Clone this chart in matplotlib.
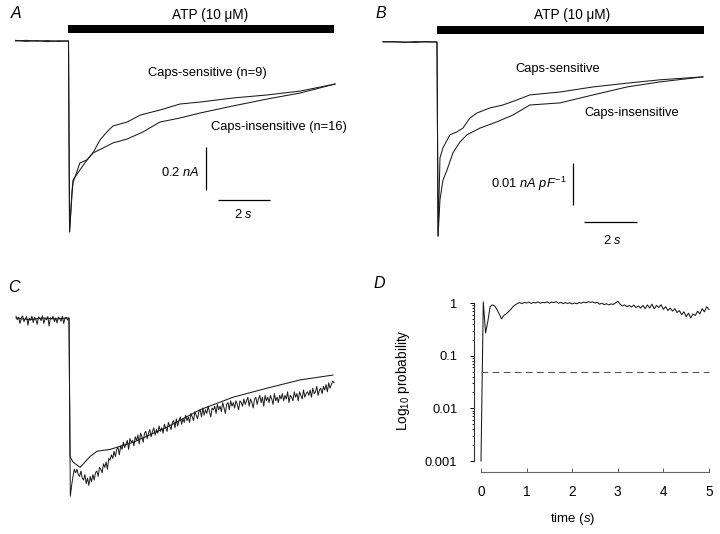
import numpy as np
import matplotlib
matplotlib.use("Agg")
import matplotlib.pyplot as plt
from matplotlib.lines import Line2D
from matplotlib.patches import Rectangle

plt.rcParams['font.family'] = ['Liberation Sans', 'DejaVu Sans']
plt.rcParams['mathtext.fontset'] = 'custom'
plt.rcParams['mathtext.rm'] = 'Liberation Sans'
plt.rcParams['mathtext.it'] = 'Liberation Sans:italic'

# ---------------- data ----------------
# Panel A: mean currents (nA) vs time (s), ATP applied at t = 0
a_t_sens = [-2.0, -1.6, -1.2, -0.8, -0.4, 0.0, 0.04, 0.13, 0.17, 0.43, 0.70, 0.92, 1.19, 1.45,
            1.68, 2.21, 2.72, 3.45, 4.21, 4.96, 6.21, 7.49, 8.74, 10.06]
a_i_sens = [0.003, -0.002, 0.002, -0.003, 0.001, 0.0, -0.888, -0.716, -0.660, -0.567, -0.553, -0.521,
            -0.460, -0.423, -0.395, -0.377, -0.344, -0.321, -0.293, -0.284, -0.265, -0.251, -0.233, -0.200]
a_t_ins = [-2.0, -1.6, -1.2, -0.8, -0.4, 0.0, 0.04, 0.13, 0.17, 0.43, 0.70, 0.92, 1.30, 1.68,
           2.21, 2.81, 3.45, 4.21, 4.96, 6.21, 7.49, 8.74, 10.06]
a_i_ins = [0.0, 0.003, -0.001, 0.002, -0.002, 0.0, -0.888, -0.702, -0.647, -0.600, -0.553, -0.521,
           -0.498, -0.474, -0.456, -0.423, -0.377, -0.358, -0.335, -0.302, -0.270, -0.242, -0.200]

# Panel B: current densities (nA pF-1)
b_t_sens = [-2.0, -1.6, -1.2, -0.8, -0.4, 0.0, 0.04, 0.11, 0.22, 0.48, 0.74, 0.96, 1.22, 1.48,
            1.96, 2.44, 2.96, 3.44, 4.56, 5.78, 7.04, 8.26, 9.85]
b_i_sens = [0.0, 0.0001, -0.0001, 0.0001, 0.0, 0.0, -0.0462, -0.0276, -0.0252, -0.0221, -0.0214,
            -0.0205, -0.0181, -0.0169, -0.0157, -0.0150, -0.0138, -0.0126, -0.0119, -0.0107,
            -0.0098, -0.0090, -0.0083]
b_t_ins = [-2.0, -1.6, -1.2, -0.8, -0.4, 0.0, 0.04, 0.11, 0.22, 0.37, 0.59, 0.85, 1.11, 1.59,
           2.22, 2.81, 3.44, 4.56, 5.78, 7.04, 8.26, 9.85]
b_i_ins = [0.0001, 0.0, 0.0, -0.0001, 0.0001, 0.0, -0.0462, -0.0376, -0.0329, -0.0305, -0.0264,
           -0.0238, -0.0221, -0.0205, -0.0190, -0.0174, -0.0150, -0.0145, -0.0126, -0.0107,
           -0.0095, -0.0083]

# Panel C: normalised currents, mean trace and single noisy trace
c_t_mean = [-2.0, -1.5, -1.0, -0.5, 0.0, 0.04, 0.15, 0.42, 0.79, 1.06, 1.55, 2.43, 3.70, 4.94,
            6.19, 7.47, 8.72, 9.96]
c_i_mean = [0.0, -0.01, 0.0, -0.005, 0.0, -0.77, -0.80, -0.83, -0.77, -0.74, -0.73, -0.69, -0.606,
            -0.51, -0.44, -0.39, -0.344, -0.317]
c_noisy_t0 = -2.0
c_noisy_dt = 0.05
c_noisy = [
    0.01, -0.01, 0.005, -0.03, 0.0, 0.012, -0.02, -0.005, 0.008, -0.04,
    0.0, -0.012, 0.01, -0.025, 0.004, -0.008, -0.035, 0.006, 0.0, -0.015,
    0.012, -0.03, 0.0, -0.01, 0.008, -0.045, 0.002, -0.006, 0.01, -0.02,
    0.0, -0.028, 0.006, -0.004, -0.018, 0.01, -0.03, 0.0, 0.004, -0.012,
    0.0,
    -0.99, -0.93, -0.88, -0.84, -0.86, -0.84, -0.87, -0.88, -0.85, -0.89,
    -0.90, -0.87, -0.92, -0.89, -0.93, -0.88, -0.91, -0.87, -0.90, -0.86,
    -0.85, -0.88, -0.83, -0.84, -0.86, -0.81, -0.83, -0.80, -0.84, -0.78,
    -0.79, -0.76, -0.78, -0.74, -0.77, -0.73, -0.72, -0.76, -0.71, -0.73,
    -0.69, -0.72, -0.70, -0.68, -0.73, -0.67, -0.69, -0.68, -0.71, -0.66,
    -0.68, -0.65, -0.70, -0.64, -0.66, -0.69, -0.64, -0.63, -0.67, -0.64,
    -0.62, -0.66, -0.63, -0.61, -0.65, -0.62, -0.64, -0.60, -0.63, -0.61,
    -0.64, -0.59, -0.61, -0.63, -0.58, -0.60, -0.62, -0.58, -0.57, -0.61,
    -0.56, -0.60, -0.57, -0.55, -0.59, -0.56, -0.58, -0.54, -0.57, -0.55,
    -0.58, -0.53, -0.55, -0.57, -0.52, -0.54, -0.56, -0.52, -0.51, -0.55,
    -0.50, -0.54, -0.51, -0.53, -0.49, -0.52, -0.55, -0.50, -0.51, -0.49,
    -0.53, -0.48, -0.51, -0.49, -0.52, -0.47, -0.50, -0.53, -0.48, -0.47,
    -0.51, -0.46, -0.49, -0.47, -0.50, -0.46, -0.48, -0.51, -0.46, -0.47,
    -0.49, -0.45, -0.48, -0.46, -0.44, -0.49, -0.45, -0.47, -0.50, -0.45,
    -0.44, -0.48, -0.45, -0.43, -0.47, -0.44, -0.49, -0.43, -0.46, -0.44,
    -0.47, -0.43, -0.45, -0.48, -0.42, -0.46, -0.44, -0.47, -0.43, -0.45,
    -0.42, -0.46, -0.43, -0.45, -0.41, -0.47, -0.43, -0.44, -0.46, -0.41,
    -0.44, -0.42, -0.46, -0.41, -0.43, -0.45, -0.40, -0.44, -0.42, -0.41,
    -0.43, -0.40, -0.44, -0.39, -0.42, -0.41, -0.38, -0.43, -0.40, -0.39,
    -0.42, -0.38, -0.40, -0.37, -0.41, -0.36, -0.39, -0.37, -0.35, -0.36]

# Panel D: probability vs time
d_t0 = 0.0
d_dt = 0.05
d_p = [0.001, 1.05, 0.27, 0.45, 0.85, 0.92, 0.88, 0.75, 0.62, 0.50,
       0.58, 0.62, 0.68, 0.75, 0.85, 0.92, 0.98, 1.02, 0.97, 1.03,
       1.00, 1.04, 0.98, 1.03, 1.00, 1.05, 0.99, 1.03, 1.01, 1.05,
       0.99, 1.04, 1.02, 1.06, 0.99, 1.03, 0.97, 1.02, 0.98, 1.01,
       0.96, 1.00, 0.97, 1.02, 0.99, 1.04, 1.01, 1.06, 1.03, 1.05,
       1.00, 1.03, 0.95, 0.99, 0.93, 0.97, 0.92, 0.96, 0.94, 1.00,
       1.08, 0.95, 0.88, 0.92, 0.85, 0.90, 0.84, 0.91, 0.82, 0.88,
       0.80, 0.90, 0.78, 0.92, 0.80, 0.95, 0.78, 0.90, 0.82, 0.93,
       0.76, 0.85, 0.72, 0.80, 0.70, 0.78, 0.66, 0.72, 0.60, 0.68,
       0.55, 0.64, 0.52, 0.62, 0.58, 0.70, 0.62, 0.78, 0.68, 0.85,
       0.75]
d_threshold = 0.05
d_yticks = [0.001, 0.01, 0.1, 1]
d_yticklabels = ['0.001', '0.01', '0.1', '1']
d_xticks = [0, 1, 2, 3, 4, 5]

# ---------------- figure ----------------
W, H = 720, 534
fig = plt.figure(figsize=(W / 100, H / 100), dpi=100)
fig.patch.set_facecolor('white')


def fx(x):
    return x / W


def fy(y):
    return 1 - y / H


def ftext(x, y, s, **kw):
    fig.text(fx(x), fy(y), s, **kw)


def fline(xs, ys, lw=0.9, color='k'):
    fig.add_artist(Line2D([fx(v) for v in xs], [fy(v) for v in ys],
                          transform=fig.transFigure, color=color, lw=lw,
                          solid_capstyle='butt'))


def fbar(x0, x1, y0, y1):
    fig.add_artist(Rectangle((fx(x0), fy(y1)), (x1 - x0) / W, (y1 - y0) / H,
                             transform=fig.transFigure, color='k', lw=0))


def trace_axes(box, x_org, px_per_x, y_org, px_per_y):
    x0, x1, y0, y1 = box
    ax = fig.add_axes([fx(x0), fy(y1), (x1 - x0) / W, (y1 - y0) / H])
    ax.set_xlim((x0 - x_org) / px_per_x, (x1 - x_org) / px_per_x)
    ax.set_ylim(-(y1 - y_org) / px_per_y, -(y0 - y_org) / px_per_y)
    ax.axis('off')
    return ax


trace_kw = dict(color='#1a1a1a', lw=0.75)
fs = 9.3
fs_atp = 9.8
label_kw = dict(fontsize=11.5, style='italic', ha='center', va='center')

# ---- Panel A ----
axA = trace_axes((8, 350, 18, 248), 68.5, 26.5, 41, 215)
axA.plot(a_t_sens, a_i_sens, **trace_kw)
axA.plot(a_t_ins, a_i_ins, **trace_kw)
ftext(16, 13, 'A', **label_kw)
fbar(68, 334, 25, 33)
ftext(210, 14.5, 'ATP (10 μM)', fontsize=fs_atp, ha='center', va='center')
ftext(207, 73, 'Caps-sensitive (n=9)', fontsize=fs, ha='center', va='center')
ftext(279, 127, 'Caps-insensitive (n=16)', fontsize=fs, ha='center', va='center')
ftext(200, 173, '0.2 $\\mathit{nA}$', fontsize=fs, ha='right', va='center')
fline([205.5, 205.5], [147, 190])
fline([218, 270], [200, 200])
ftext(243, 214, '2 $\\mathit{s}$', fontsize=fs, ha='center', va='center')

# ---- Panel B ----
axB = trace_axes((376, 712, 18, 248), 437, 27, 42, 4200)
axB.plot(b_t_sens, b_i_sens, **trace_kw)
axB.plot(b_t_ins, b_i_ins, **trace_kw)
ftext(381, 13, 'B', **label_kw)
fbar(437, 704, 26, 34)
ftext(572, 14.5, 'ATP (10 μM)', fontsize=fs_atp, ha='center', va='center')
ftext(558, 69, 'Caps-sensitive', fontsize=fs, ha='center', va='center')
ftext(632, 113, 'Caps-insensitive', fontsize=fs, ha='center', va='center')
ftext(567, 184, '0.01 $\\mathit{nA\\ pF}^{-1}$', fontsize=fs, ha='right', va='center')
fline([573, 573], [163, 205])
fline([584, 637], [222, 222])
ftext(612, 240, '2 $\\mathit{s}$', fontsize=fs, ha='center', va='center')

# ---- Panel C ----
axC = trace_axes((8, 350, 300, 512), 69, 26.5, 318, 180)
c_noisy_time = c_noisy_t0 + c_noisy_dt * np.arange(len(c_noisy))
axC.plot(c_noisy_time, c_noisy, color='#1a1a1a', lw=0.7)
axC.plot(c_t_mean, c_i_mean, **trace_kw)
ftext(14, 288, 'C', **label_kw)

# ---- Panel D ----
axD = fig.add_axes([fx(481), fy(461), (709 - 481) / W, (461 - 303) / H])
d_time = d_t0 + d_dt * np.arange(len(d_p))
axD.plot(d_time, d_p, color='#1a1a1a', lw=0.75, clip_on=False)
axD.plot([d_xticks[0], d_xticks[-1]], [d_threshold, d_threshold], color='#555555',
         lw=0.8, dashes=(6, 4), clip_on=False)
axD.set_yscale('log')
axD.set_ylim(0.001, 1)
axD.set_xlim(0, 5)
axD.set_facecolor('none')
for s in ['top', 'right']:
    axD.spines[s].set_visible(False)
axD.spines['left'].set_position(('outward', 5))
axD.spines['bottom'].set_position(('outward', 8))
axD.spines['left'].set_bounds(0.001, 1)
axD.spines['bottom'].set_bounds(0, 5)
axD.spines['left'].set_color('#333333')
axD.spines['bottom'].set_color('#666666')
axD.spines['left'].set_linewidth(0.8)
axD.spines['bottom'].set_linewidth(0.8)
axD.set_yticks(d_yticks)
axD.set_yticklabels(d_yticklabels)
axD.set_xticks(d_xticks)
axD.set_xticklabels([str(v) for v in d_xticks])
axD.tick_params(axis='y', which='major', direction='out', length=3, width=0.7, pad=9,
                labelsize=9.3)
axD.tick_params(axis='y', which='minor', direction='out', length=1.6, width=0.6)
axD.tick_params(axis='x', which='major', direction='in', length=3, width=0.7, pad=9,
                labelsize=9.8, color='#555555')
ftext(379, 283, 'D', **label_kw)
ftext(403, 380, 'Log$_{10}$ probability', fontsize=9.8, rotation=90, ha='center', va='center')
ftext(573, 519, 'time ($\\mathit{s}$)', fontsize=9.5, ha='center', va='center')

fig.savefig('out.png', dpi=100, facecolor='white')
